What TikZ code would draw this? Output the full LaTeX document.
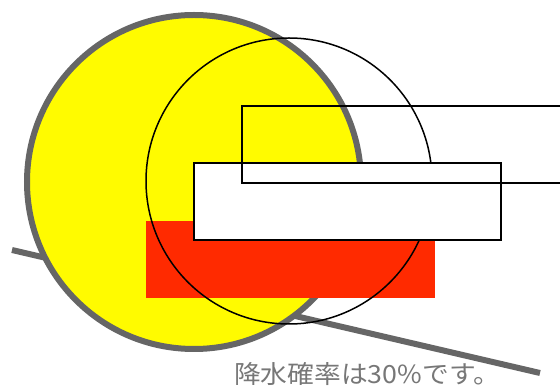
\documentclass[tikz,border=0pt]{standalone}
\usepackage{fontspec}
\usepackage{graphicx}
\newfontfamily\jpfont{Noto Sans CJK JP}
\usetikzlibrary{positioning}
\definecolor{mygray}{HTML}{666666}
\definecolor{myyellow}{HTML}{FFFB00}
\definecolor{myred}{HTML}{FF2A00}
\definecolor{mytext}{HTML}{777777}
\tikzset{
  thickgray/.style={draw=mygray, line width=6pt},
  thinblack/.style={draw=black, line width=1.5pt},
  caption/.style={font=\jpfont\fontsize{25}{28}\selectfont, text=mytext, inner sep=0pt, anchor=west}
}

\begin{document}
\begin{tikzpicture}[x=1pt, y=-1pt]
\useasboundingbox (0,0) rectangle (560,387);

% Gray line behind everything
\coordinate (lstart) at (12,250);
\coordinate (lend) at (540,373);
\draw[thickgray] (lstart) -- (lend);

% Yellow disc
\coordinate (sun) at (194,182);
\draw[thickgray, fill=myyellow] (sun) circle (167);

% Red block
\fill[myred] (146,221) rectangle (435,298);

% Black ring
\coordinate (ring) at (289,181);
\draw[thinblack] (ring) circle (143);

% White boxes
\draw[thinblack, fill=white] (194,163) rectangle (501,240);
\draw[thinblack] (242,106) rectangle (600,183);

% Caption
\node[caption] (rain) at (234,374) {\scalebox{1.07}[1]{降水確率は30\%です。}};

\end{tikzpicture}
\end{document}
